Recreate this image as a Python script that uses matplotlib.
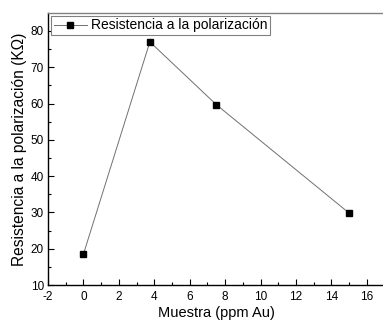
import numpy as np
import matplotlib.pyplot as plt

plt.rcParams['font.family'] = ['Liberation Sans', 'DejaVu Sans']
plt.rcParams['axes.unicode_minus'] = False

# muestras y resistencia medida
muestra = [0, 3.75, 7.5, 15]
resistencia = [18.5, 77.0, 59.7, 29.8]

fig = plt.figure(figsize=(3.83, 3.25), dpi=100)
ax = fig.add_axes([0.1253, 0.123, 0.879, 0.8375])

ax.plot(muestra, resistencia, color='#707070', linewidth=0.7,
        marker='s', markersize=4.6, markerfacecolor='black',
        markeredgecolor='black', label='Resistencia a la polarización')

ax.set_xlim(-2, 17)
ax.set_ylim(10, 85)
ax.set_xticks(np.arange(-2, 17, 2))
ax.set_xticks(np.arange(-1, 17, 2), minor=True)
ax.set_yticks(np.arange(10, 81, 10))
ax.set_yticks(np.arange(15, 85, 10), minor=True)

ax.tick_params(which='both', direction='in', labelsize=8.5, width=0.8)
ax.tick_params(axis='x', which='both', pad=4.5)
ax.tick_params(axis='y', which='both', pad=3)
ax.tick_params(which='major', length=4)
ax.tick_params(which='minor', length=2.5)

for s in ['left', 'bottom']:
    ax.spines[s].set_color('black')
    ax.spines[s].set_linewidth(1.0)
ax.spines['top'].set_color('#808080')
ax.spines['top'].set_linewidth(1.0)
ax.spines['right'].set_visible(False)

ax.set_xlabel('Muestra (ppm Au)', fontsize=10.5, labelpad=2)
ax.set_ylabel('Resistencia a la polarización (KΩ)', fontsize=11.2, labelpad=2.5)

leg = ax.legend(loc='upper left', fontsize=10, fancybox=False, framealpha=1,
                edgecolor='#808080', borderaxespad=0.2, handlelength=2.4,
                handletextpad=0.3, borderpad=0.2)
leg.get_frame().set_linewidth(0.8)

fig.savefig('out.png', dpi=100)
